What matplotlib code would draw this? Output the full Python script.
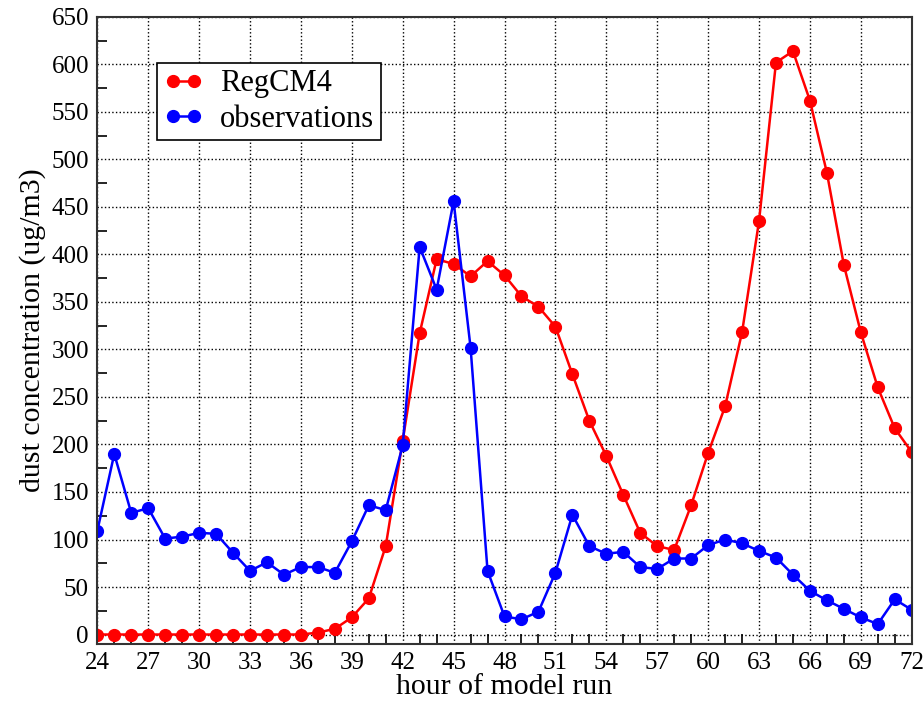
import matplotlib.pyplot as plt
from matplotlib.ticker import MultipleLocator

hours = list(range(24, 73))

regcm4 = [0, 0, 0, 0, 0, 0, 0, 0, 0, 0, 0, 0, 0, 2, 6, 18, 38, 93,
          204, 317, 395, 390, 377, 393, 378, 356, 345, 324, 274, 225,
          188, 147, 107, 93, 89, 136, 191, 240, 318, 435, 602, 614,
          562, 486, 389, 318, 260, 217, 192]

observations = [109, 190, 128, 133, 101, 103, 107, 106, 86, 67, 76, 63,
                71, 71, 65, 98, 136, 131, 199, 408, 363, 456, 302, 67,
                19, 16, 24, 65, 126, 93, 85, 87, 71, 69, 80, 80, 94,
                100, 96, 88, 81, 63, 46, 36, 27, 18, 11, 37, 26]

plt.rcParams["font.family"] = ["Liberation Serif", "DejaVu Serif"]

fig = plt.figure(figsize=(9.24, 7.05), dpi=100)
ax = fig.add_axes([0.1053, 0.0865, 0.8814, 0.8895])

ax.plot(hours, regcm4, "-o", color="red", lw=1.8, ms=8.5, label="RegCM4")
ax.plot(hours, observations, "-o", color="blue", lw=1.8, ms=8.5,
        label="observations")

ax.set_xlim(24, 72)
ax.set_ylim(-10, 650)
ax.xaxis.set_major_locator(MultipleLocator(3))
ax.xaxis.set_minor_locator(MultipleLocator(1))
ax.yaxis.set_major_locator(MultipleLocator(50))
ax.yaxis.set_minor_locator(MultipleLocator(25))
ax.tick_params(which="both", direction="in", labelsize=18, top=False,
               right=False)
ax.tick_params(which="major", length=0, pad=6)
ax.tick_params(which="minor", length=7, width=1.2)
ax.grid(True, which="major", linestyle=":", color="black", lw=1.0)

for s in ax.spines.values():
    s.set_linewidth(1.5)
    s.set_color("#333333")

ax.set_xlabel("hour of model run", fontsize=21.5, labelpad=0)
ax.set_ylabel("dust concentration (ug/m3)", fontsize=21.5, labelpad=4)

leg = ax.legend(loc="upper left", bbox_to_anchor=(0.073, 0.927), fontsize=22,
                fancybox=False, framealpha=1, edgecolor="black",
                numpoints=2, handlelength=1.3, handletextpad=0.55,
                borderpad=0.22, labelspacing=0.2, borderaxespad=0)
leg.get_frame().set_linewidth(1.2)

fig.savefig("out.png", dpi=100)
